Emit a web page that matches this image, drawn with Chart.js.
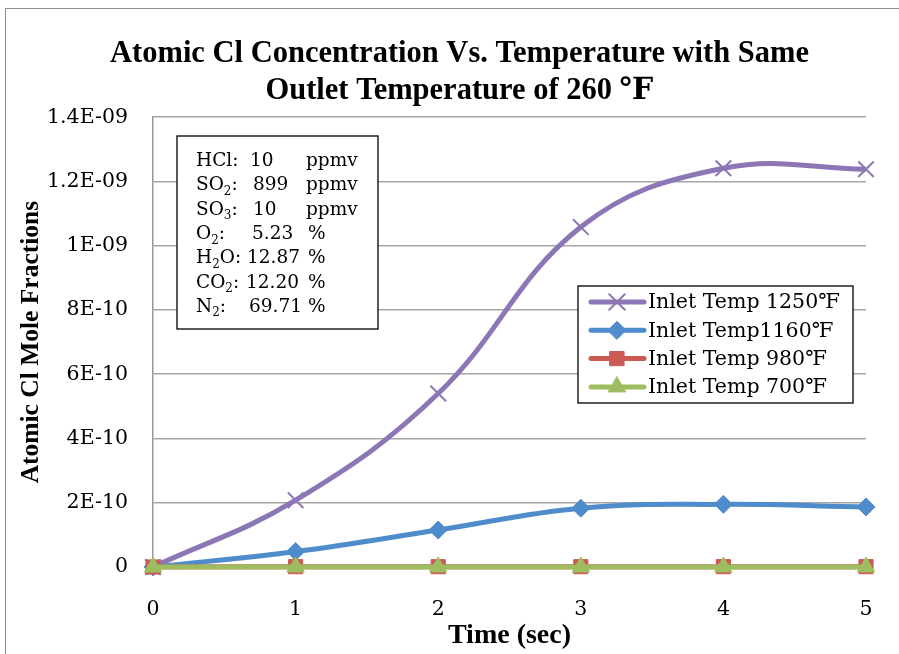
<!DOCTYPE html>
<html>
<head>
<meta charset="utf-8">
<script src="https://cdn.jsdelivr.net/npm/chart.js@4.4.0/dist/chart.umd.min.js"></script>
<style>
body { margin: 0; background: #fff; overflow: hidden; }
#frame { position: absolute; left: 5px; top: 8px; width: 950px; height: 700px; border: 1.5px solid #8c8c8c; }
#wrap { position: absolute; left: 0; top: 0; }
</style>
</head>
<body>
<div id="frame"></div>
<div id="wrap"><canvas id="c" width="925" height="654"></canvas></div>
<script>
// chart data
var timeLabels = ['0', '1', '2', '3', '4', '5'];
var yTickLabels = ['0', '2E-10', '4E-10', '6E-10', '8E-10', '1E-09', '1.2E-09', '1.4E-09'];
var seriesNames = ['Inlet Temp 1250\u2109', 'Inlet Temp1160\u2109', 'Inlet Temp 980\u2109', 'Inlet Temp 700\u2109'];
var temp1250 = [0, 2.08e-10, 5.40e-10, 1.058e-9, 1.241e-9, 1.238e-9];
var temp1160 = [0, 4.8e-11, 1.15e-10, 1.83e-10, 1.95e-10, 1.87e-10];
var temp980 = [0, 1e-12, 1e-12, 1e-12, 1e-12, 1e-12];
var temp700 = [0, 0, 0, 0, 0, 0];

// gas composition text box
var gasNames = ['HCl:', 'SO_2:', 'SO_3:', 'O_2:', 'H_2O:', 'CO_2:', 'N_2:'];
var gasValues = ['10', '899', '10', '5.23', '12.87', '12.20', '69.71'];
var gasUnits = ['ppmv', 'ppmv', 'ppmv', '%', '%', '%', '%'];

var serif = "'DejaVu Serif', 'Liberation Serif', serif";
var boldSerif = "'Liberation Serif', 'DejaVu Serif', serif";
var colors = ['#8d76b5', '#4f8ccb', '#cb5a55', '#9dbd5e'];

function drawSubText(ctx, s, x, y, size) {
    // "SO_2:" -> SO + subscript 2 + ":"
    var parts = s.split('_');
    ctx.font = size + 'px ' + serif;
    ctx.fillText(parts[0], x, y);
    x += ctx.measureText(parts[0]).width;
    if (parts.length > 1) {
        var sub = parts[1].charAt(0);
        var rest = parts[1].slice(1);
        ctx.font = Math.round(size * 0.65) + 'px ' + serif;
        ctx.fillText(sub, x, y + size * 0.25);
        x += ctx.measureText(sub).width;
        ctx.font = size + 'px ' + serif;
        ctx.fillText(rest, x, y);
    }
}

var boxesPlugin = {
    id: 'boxes',
    afterDraw: function(chart) {
        var ctx = chart.ctx;
        ctx.save();
        // composition box
        ctx.fillStyle = '#fff';
        ctx.fillRect(177, 136, 201, 193);
        ctx.strokeStyle = '#000';
        ctx.lineWidth = 1.3;
        ctx.strokeRect(177, 136, 201, 193);
        ctx.fillStyle = '#000';
        ctx.textBaseline = 'alphabetic';
        for (var i = 0; i < gasNames.length; i++) {
            var by = 166 + i * 24.3;
            drawSubText(ctx, gasNames[i], 196, by, 18.5);
            ctx.font = '18.5px ' + serif;
            var vx = [250, 253, 253, 252, 247, 246, 249][i];
            ctx.fillText(gasValues[i], vx, by);
            ctx.fillText(gasUnits[i], gasUnits[i] === '%' ? 308 : 306, by);
        }
        // legend box
        ctx.fillStyle = '#fff';
        ctx.fillRect(578, 286, 275, 117);
        ctx.strokeStyle = '#000';
        ctx.strokeRect(578, 286, 275, 117);
        var ds = chart.data.datasets;
        for (var j = 0; j < ds.length; j++) {
            var cy = 302 + j * 28.3;
            ctx.strokeStyle = ds[j].borderColor;
            ctx.lineWidth = 5;
            ctx.lineCap = 'round';
            ctx.beginPath();
            ctx.moveTo(591, cy);
            ctx.lineTo(644, cy);
            ctx.stroke();
            ctx.lineWidth = ds[j].pointBorderWidth;
            ctx.fillStyle = ds[j].pointBackgroundColor;
            ctx.strokeStyle = ds[j].pointBorderColor;
            Chart.helpers.drawPoint(ctx, {pointStyle: ds[j].pointStyle, radius: ds[j].pointRadius, borderWidth: ds[j].pointBorderWidth, rotation: 0}, 617, cy);
            ctx.fillStyle = '#000';
            ctx.font = '20.5px ' + serif;
            ctx.textBaseline = 'middle';
            ctx.fillText(ds[j].label, 648, cy + 1);
        }
        ctx.restore();
    }
};

function makeSet(i, data, style, radius, bw, order) {
    return {
        label: seriesNames[i],
        data: data,
        borderColor: colors[i],
        backgroundColor: colors[i],
        pointBackgroundColor: colors[i],
        pointBorderColor: colors[i],
        pointStyle: style,
        pointRadius: radius,
        pointBorderWidth: bw,
        borderWidth: 5,
        tension: 0.4,
        clip: false,
        order: order
    };
}

new Chart(document.getElementById('c'), {
    type: 'line',
    data: {
        labels: timeLabels,
        datasets: [
            makeSet(0, temp1250, 'crossRot', 11, 2, 4),
            makeSet(1, temp1160, 'rectRot', 9, 1, 3),
            makeSet(2, temp980, 'rect', 10, 1, 2),
            makeSet(3, temp700, 'triangle', 10, 1, 1)
        ]
    },
    options: {
        responsive: false,
        animation: false,
        layout: { padding: { left: 12, right: 18, top: 0, bottom: 0 } },
        plugins: {
            legend: { display: false },
            tooltip: { enabled: false },
            title: {
                display: true,
                text: ['Atomic Cl Concentration Vs. Temperature with Same', 'Outlet Temperature of 260 \u2109'],
                color: '#000',
                font: { family: boldSerif, size: 30.5, weight: 'bold', lineHeight: 1.2 },
                padding: { top: 36, bottom: 8 }
            }
        },
        scales: {
            x: {
                grid: { display: false },
                border: { display: true, color: '#9a9a9a', width: 1.5 },
                ticks: { color: '#000', font: { family: serif, size: 20.5 }, padding: 22, maxRotation: 0 },
                title: { display: true, text: 'Time (sec)', color: '#000', font: { family: boldSerif, size: 28, weight: 'bold' }, padding: { top: 1, bottom: 1 } },
                afterFit: function(s) { s.height = 87; }
            },
            y: {
                min: 0,
                max: 1.4e-9,
                ticks: {
                    stepSize: 2e-10,
                    color: '#000',
                    font: { family: serif, size: 20.5 },
                    padding: 25,
                    callback: function(v, i) { return yTickLabels[i]; }
                },
                grid: { color: '#a6a6a6', lineWidth: 1.5, drawTicks: false },
                border: { display: true, color: '#9a9a9a', width: 1.5 },
                title: { display: true, text: 'Atomic Cl Mole Fractions', color: '#000', font: { family: boldSerif, size: 25.5, weight: 'bold' }, padding: { top: 4, bottom: 4 } },
                afterFit: function(s) { s.width = 141; }
            },
            y2: {
                position: 'right',
                display: true,
                grid: { display: false },
                border: { display: false },
                ticks: { display: false },
                afterFit: function(s) { s.width = 41; }
            }
        }
    },
    plugins: [boxesPlugin]
});
</script>
</body>
</html>
